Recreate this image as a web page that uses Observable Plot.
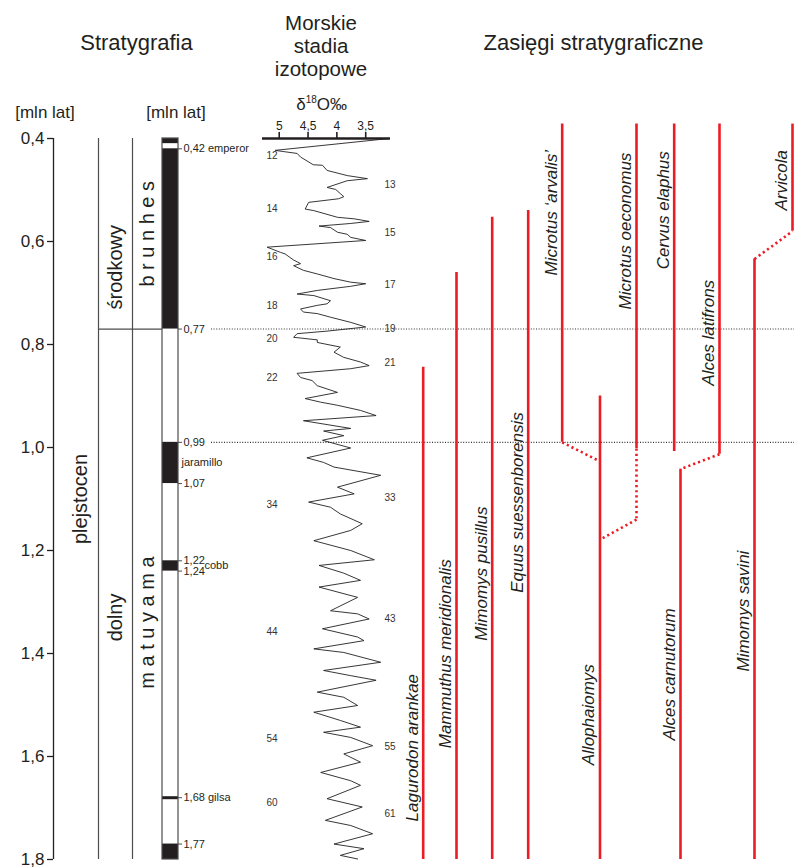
<!DOCTYPE html>
<html lang="pl">
<head>
<meta charset="utf-8">
<script src="https://cdn.jsdelivr.net/npm/d3@7"></script>
<script src="https://cdn.jsdelivr.net/npm/@observablehq/plot@0.6"></script>
<style>
  html, body { margin: 0; padding: 0; background: #fff; }
  #chart { position: relative; width: 794px; height: 867px; font-family: "Liberation Sans", Arial, sans-serif; color: #231f20; }
  #chart svg { position: absolute; left: 0; top: 0; }
  .hd { position: absolute; white-space: nowrap; transform: translateX(-50%); text-align: center; line-height: 1; }
</style>
</head>
<body>
<div id="chart">
  <div class="hd" style="left:136.5px; top:31.9px; font-size:22px;">Stratygrafia</div>
  <div class="hd" style="left:321px; top:13.2px; font-size:20.5px;">Morskie</div>
  <div class="hd" style="left:321px; top:36.2px; font-size:20.5px;">stadia</div>
  <div class="hd" style="left:321px; top:59.2px; font-size:20.5px;">izotopowe</div>
  <div class="hd" style="left:593.5px; top:31.9px; font-size:22px;">Zasięgi stratygraficzne</div>
  <div class="hd" style="left:45px; top:103.6px; font-size:17px;">[mln lat]</div>
  <div class="hd" style="left:176px; top:103.6px; font-size:17px;">[mln lat]</div>
  <div class="hd" style="left:321.7px; top:95.6px; font-size:17px;">δ<span style="font-size:10px; position:relative; top:-7px;">18</span>O‰</div>
</div>
<script>
// ---------- data: ages in mln lat (Ma) ----------
const ageTicks = [0.4, 0.6, 0.8, 1.0, 1.2, 1.4, 1.6, 1.8];

// magnetic polarity: normal (black) intervals
const normalFrom = [0.40, 0.42, 0.99, 1.22, 1.77];
const normalTo   = [0.41, 0.77, 1.07, 1.24, 1.80];
const thinNormal = [1.68];                       // gilsa
const boundaryAges  = [0.42, 0.77, 0.99, 1.07, 1.22, 1.24, 1.68, 1.77];
const boundaryNames = ["emperor", "", "", "", "", "", "gilsa", ""];
const subchrons     = ["jaramillo", "cobb"];
const subchronAge   = [1.03, 1.23];

// stratigraphic units (rotated labels)
const unitNames = ["plejstocen", "środkowy", "dolny", "b r u n h e s", "m a t u y a m a"];
const unitCols  = ["epoka", "podział", "podział", "chron", "chron"];
const unitAge   = [1.10, 0.65, 1.33, 0.585, 1.34];

// δ18O record
const isoAge = [0.400,0.423,0.425,0.429,0.436,0.451,0.452,0.462,0.472,0.478,0.482,0.495,0.499,0.507,0.513,0.517,0.524,0.537,0.540,0.553,0.556,0.561,0.565,0.570,0.573,0.582,0.586,0.592,0.598,0.611,0.621,0.624,0.636,0.643,0.647,0.656,0.663,0.672,0.679,0.682,0.687,0.695,0.702,0.705,0.715,0.721,0.724,0.731,0.737,0.740,0.747,0.757,0.766,0.774,0.779,0.786,0.791,0.796,0.805,0.815,0.825,0.834,0.841,0.847,0.856,0.864,0.870,0.880,0.893,0.905,0.912,0.918,0.928,0.938,0.948,0.963,0.968,0.977,0.986,1.001,1.020,1.029,1.038,1.054,1.077,1.090,1.106,1.116,1.129,1.148,1.161,1.181,1.200,1.218,1.229,1.244,1.258,1.271,1.291,1.317,1.323,1.333,1.352,1.368,1.375,1.391,1.398,1.417,1.433,1.443,1.452,1.475,1.485,1.501,1.514,1.530,1.543,1.553,1.563,1.579,1.595,1.611,1.631,1.647,1.656,1.682,1.698,1.724,1.734,1.750,1.770,1.779,1.792,1.799];
const isoValue = [3.09,5.07,4.95,4.69,4.63,4.41,4.25,4.17,3.82,3.47,3.82,4.17,4.02,3.94,3.88,3.97,4.49,4.55,4.40,3.99,3.70,3.44,3.76,4.31,4.11,3.99,3.82,3.76,3.50,5.21,4.98,4.90,4.75,4.63,4.75,4.58,4.34,4.05,3.76,3.50,3.76,4.34,4.69,4.40,4.11,4.17,4.34,4.63,4.58,4.34,4.11,3.76,3.50,4.17,4.69,4.75,4.34,4.34,3.94,4.05,3.88,3.59,3.44,3.76,4.69,4.63,4.43,4.34,3.99,4.55,4.28,3.99,3.59,3.32,4.58,3.76,4.23,3.88,4.25,3.76,4.52,4.23,4.05,3.24,3.99,3.70,4.49,4.11,3.94,3.56,3.76,4.40,3.76,3.35,4.31,3.88,3.59,4.31,3.64,4.11,3.64,3.44,4.25,3.64,3.53,4.40,3.88,3.24,4.23,3.76,3.32,4.34,3.88,3.64,4.40,3.94,3.59,4.23,3.76,3.38,3.88,3.59,4.28,3.76,3.59,4.17,3.56,4.20,3.76,3.38,4.05,3.53,3.94,3.64];
const isoTicks = [5, 4.5, 4, 3.5];

// marine isotope stages
const stageEven    = [12, 14, 16, 18, 20, 22, 34, 44, 54, 60];
const stageEvenAge = [0.433, 0.536, 0.629, 0.724, 0.788, 0.864, 1.111, 1.357, 1.565, 1.689];
const stageOdd     = [13, 15, 17, 19, 21, 33, 43, 55, 61];
const stageOddAge  = [0.489, 0.583, 0.684, 0.769, 0.835, 1.097, 1.332, 1.582, 1.711];

// stratigraphic ranges of taxa (first / last occurrence)
const taxa = ["Lagurodon arankae", "Mammuthus meridionalis", "Mimomys pusillus", "Equus suessenborensis",
  "Microtus ‘arvalis’", "Allophaiomys", "Microtus oeconomus", "Cervus elaphus",
  "Alces carnutorum", "Alces latifrons", "Mimomys savini", "Arvicola"];
const rangeTop    = [0.844, 0.660, 0.553, 0.540, 0.372, 0.900, 0.372, 0.372, 1.042, 0.372, 0.634, 0.372];
const rangeBottom = [1.800, 1.800, 1.800, 1.800, 0.990, 1.800, 1.002, 1.008, 1.800, 1.013, 1.800, 0.580];

// uncertain ancestor–descendant transitions (dotted)
const transFrom    = ["Microtus ‘arvalis’", "Microtus oeconomus", "Microtus oeconomus", "Alces latifrons", "Mimomys savini"];
const transFromAge = [0.990, 1.002, 1.140, 1.013, 0.634];
const transTo      = ["Allophaiomys", "Microtus oeconomus", "Allophaiomys", "Alces carnutorum", "Arvicola"];
const transToAge   = [1.027, 1.140, 1.179, 1.042, 0.580];

// ---------- layout ----------
const W = 794, H = 867, TOP = 138, BOTTOM = 8;
const FONT = "'Liberation Sans', Arial, sans-serif";
const INK = "#231f20", LINE = "#4d4d4d", RED = "#ec1c24";
const AXIS_X = 53;
const colX = {epoka: 80, "podział": 115, chron: 147};
const colEdges = [98, 132];
const MAG = {left: 162, right: 178};
const DOT_FROM = 211;
const taxonX = {
  "Lagurodon arankae": 422.7, "Mammuthus meridionalis": 456, "Mimomys pusillus": 491.7,
  "Equus suessenborensis": 527.7, "Microtus ‘arvalis’": 561.7, "Allophaiomys": 599.5,
  "Microtus oeconomus": 636, "Cervus elaphus": 673.7, "Alces carnutorum": 680,
  "Alces latifrons": 719, "Mimomys savini": 754, "Arvicola": 792
};
// where each rotated taxon name begins (age at the first letter)
const taxonLabelAge = {
  "Lagurodon arankae": 1.726, "Mammuthus meridionalis": 1.584, "Mimomys pusillus": 1.375,
  "Equus suessenborensis": 1.282, "Microtus ‘arvalis’": 0.666, "Allophaiomys": 1.617,
  "Microtus oeconomus": 0.732, "Cervus elaphus": 0.654, "Alces carnutorum": 1.569,
  "Alces latifrons": 0.88, "Mimomys savini": 1.435, "Arvicola": 0.54
};

const comma1 = d => d.toFixed(1).replace(".", ",");
const comma2 = d => d.toFixed(2).replace(".", ",");
const commaIso = d => String(d).replace(".", ",");

const yScale = {domain: [0.4, 1.8], reverse: true, axis: null};
const baseStyle = {fontFamily: FONT, fontSize: "17px", color: INK, background: "transparent", overflow: "visible"};

const idx = n => d3.range(n);

// ---------- stratigraphy, polarity and taxon ranges ----------
const main = Plot.plot({
  width: W, height: H,
  marginTop: TOP, marginBottom: BOTTOM, marginLeft: AXIS_X, marginRight: 0,
  x: {domain: [0, W], range: [0, W], axis: null},
  y: yScale,
  style: baseStyle,
  marks: [
    // age axis
    Plot.axisY({ticks: ageTicks, tickFormat: comma1, tickSize: 6, tickPadding: 3, fontSize: 17, label: null, stroke: INK, strokeWidth: 1.3}),
    Plot.ruleX([AXIS_X], {y1: 0.4, y2: 1.8, stroke: INK, strokeWidth: 1.3}),

    // stratigraphic columns
    Plot.ruleX(colEdges, {y1: 0.4, y2: 1.8, stroke: LINE, strokeWidth: 1.2}),
    Plot.ruleY([0.77], {x1: colEdges[0], x2: MAG.left, stroke: LINE, strokeWidth: 1.2}),
    Plot.text(idx(unitNames.length), {
      x: i => colX[unitCols[i]], y: i => unitAge[i], text: i => unitNames[i],
      rotate: -90, textAnchor: "middle", lineAnchor: "middle", fontSize: 20, fill: INK
    }),

    // magnetic polarity column
    Plot.rect(idx(normalFrom.length), {x1: MAG.left, x2: MAG.right, y1: i => normalFrom[i], y2: i => normalTo[i], fill: INK}),
    Plot.ruleY(thinNormal, {x1: MAG.left, x2: MAG.right, stroke: INK, strokeWidth: 3}),
    Plot.rect([0], {x1: MAG.left, x2: MAG.right, y1: 0.4, y2: 1.8, fill: "none", stroke: LINE, strokeWidth: 1.2}),
    Plot.ruleY(boundaryAges, {x1: MAG.right, x2: MAG.right + 4, stroke: LINE, strokeWidth: 1}),
    Plot.text(boundaryAges, {
      x: MAG.right + 5, y: d => d,
      text: (d, i) => comma2(d) + (boundaryNames[i] ? " " + boundaryNames[i] : ""),
      textAnchor: "start", lineAnchor: "middle", fontSize: 11, fill: INK
    }),
    Plot.text(subchrons, {
      x: (d, i) => i === 0 ? MAG.right + 3 : MAG.right + 26, y: (d, i) => subchronAge[i],
      textAnchor: "start", lineAnchor: "middle", fontSize: 11, fill: INK
    }),

    // palaeomagnetic boundaries carried across the chart
    Plot.ruleY([0.77, 0.99], {x1: DOT_FROM, x2: W, stroke: "#333", strokeWidth: 1.1, strokeDasharray: "1,1.6"}),

    // taxon ranges
    Plot.ruleX(idx(taxa.length), {
      x: i => taxonX[taxa[i]], y1: i => rangeTop[i], y2: i => rangeBottom[i],
      stroke: RED, strokeWidth: 2.6
    }),
    Plot.link(idx(transFrom.length), {
      x1: i => taxonX[transFrom[i]], y1: i => transFromAge[i],
      x2: i => taxonX[transTo[i]], y2: i => transToAge[i],
      stroke: RED, strokeWidth: 2.6, strokeDasharray: "2.2,3"
    }),
    Plot.text(taxa, {
      x: d => taxonX[d] - 11, y: d => taxonLabelAge[d],
      rotate: -90, textAnchor: "start", lineAnchor: "middle",
      fontSize: 17, fontStyle: "italic", fill: INK
    })
  ]
});

// ---------- oxygen isotope curve ----------
const iso = Plot.plot({
  width: W, height: H,
  marginTop: TOP, marginBottom: BOTTOM, marginLeft: 262, marginRight: 404,
  x: {domain: [5.29, 3.07], axis: null},
  y: yScale,
  style: baseStyle,
  marks: [
    Plot.axisX({anchor: "top", ticks: isoTicks, tickFormat: commaIso, tickSize: 7, tickPadding: 2, fontSize: 12, label: null, stroke: INK, strokeWidth: 1.6}),
    Plot.ruleY([0.4], {stroke: INK, strokeWidth: 2.4}),
    Plot.line(idx(isoAge.length), {x: i => isoValue[i], y: i => isoAge[i], stroke: INK, strokeWidth: 0.9}),
    Plot.text(stageEven, {y: (d, i) => stageEvenAge[i], frameAnchor: "left", dx: 4, fontSize: 10, fill: "#333"}),
    Plot.text(stageOdd, {y: (d, i) => stageOddAge[i], frameAnchor: "right", dx: 5, fontSize: 10, fill: "#333"})
  ]
});

const chart = document.getElementById("chart");
chart.append(main, iso);
</script>
</body>
</html>
